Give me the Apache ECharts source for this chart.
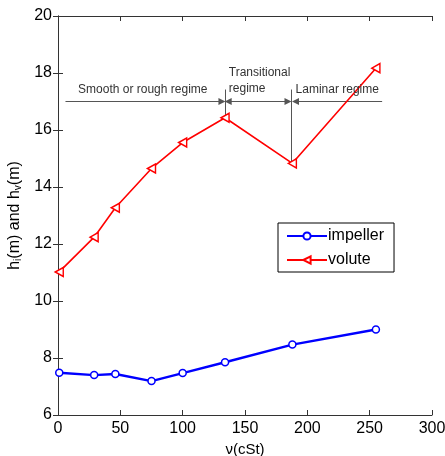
<!DOCTYPE html>
<html>
<head>
<meta charset="utf-8">
<script src="https://cdn.jsdelivr.net/npm/echarts@6/dist/echarts.min.js"></script>
<style>
  html, body { margin: 0; padding: 0; background: #fff; }
  #chart { width: 445px; height: 456px; }
</style>
</head>
<body>
<div id="chart"></div>
<script>
// viscosity (cSt)
var nu = [1, 29, 46, 75, 100, 134, 188, 255];
var impeller = [7.48, 7.40, 7.44, 7.19, 7.47, 7.85, 8.47, 9.0];
var volute = [11.02, 12.24, 13.27, 14.65, 15.56, 16.43, 14.83, 18.17];
var xTicks = [0, 50, 100, 150, 200, 250, 300];
var yTicks = [6, 8, 10, 12, 14, 16, 18, 20];

// regime boundaries and arrow levels
var arrowY = 17.0;
var regimeEdges = [6, 134, 188, 260];

var mychart = echarts.init(document.getElementById('chart'));

var font = 'Liberation Sans, Arial, sans-serif';
var axisColor = '#333';

function pairs(xs, ys) {
  return xs.map(function (x, i) { return [x, ys[i]]; });
}

var annotLines = [
  // smooth/rough arrow -> right
  [{ coord: [regimeEdges[0], arrowY], symbol: 'none' }, { coord: [regimeEdges[1] - 2.5, arrowY], symbol: 'triangle' }],
  // transitional <->
  [{ coord: [regimeEdges[1] + 2.5, arrowY], symbol: 'triangle' }, { coord: [regimeEdges[2] - 3.5, arrowY], symbol: 'triangle' }],
  // laminar <-
  [{ coord: [regimeEdges[2] + 2.5, arrowY], symbol: 'triangle' }, { coord: [regimeEdges[3], arrowY], symbol: 'none' }],
  // vertical boundaries
  [{ coord: [regimeEdges[1], 17.42], symbol: 'none' }, { coord: [regimeEdges[1], volute[5]], symbol: 'none' }],
  [{ coord: [regimeEdges[2] - 1, 17.42], symbol: 'none' }, { coord: [regimeEdges[2] - 1, volute[6]], symbol: 'none' }]
];

var labelStyle = { fontFamily: font, fontSize: 12, color: '#333', lineHeight: 16 };

mychart.setOption({
  animation: false,
  grid: { left: 58, right: 13, top: 16, bottom: 41, outerBoundsMode: 'none' },
  legend: {
    data: ['impeller', 'volute'],
    orient: 'vertical',
    left: 278, top: 223,
    width: 116,
    padding: [5, 10, 4, 8],
    itemGap: 8,
    itemWidth: 40, itemHeight: 9,
    borderColor: '#000', borderWidth: 1, borderRadius: 0,
    backgroundColor: '#fff',
    textStyle: { fontFamily: font, fontSize: 16, color: '#000', padding: [0, 0, 0, -4] }
  },
  xAxis: [{
    type: 'value', min: 0, max: 300, interval: 50,
    name: 'ν(cSt)', nameLocation: 'middle', nameGap: 20,
    nameTextStyle: { fontFamily: font, fontSize: 15, color: '#000' },
    axisLine: { lineStyle: { color: axisColor } },
    axisTick: { inside: true, length: 5, lineStyle: { color: axisColor } },
    axisLabel: { fontFamily: font, fontSize: 16, color: '#000', margin: 6 },
    splitLine: { show: false }
  }, {
    type: 'value', min: 0, max: 300, interval: 50, position: 'top',
    axisLine: { show: true, lineStyle: { color: axisColor } },
    axisTick: { inside: true, length: 5, lineStyle: { color: axisColor } },
    axisLabel: { show: false }, splitLine: { show: false }
  }],
  yAxis: [{
    type: 'value', min: 6, max: 20, interval: 2,
    name: '{a|h}{s|i}{a|(m) and h}{s|v}{a|(m)}',
    nameLocation: 'middle', nameGap: 27,
    nameTextStyle: {
      rich: {
        a: { fontFamily: font, fontSize: 16, color: '#000' },
        s: { fontFamily: font, fontSize: 10, color: '#000', padding: [8, 0, 0, 0] }
      }
    },
    axisLine: { show: true, lineStyle: { color: axisColor } },
    axisTick: { show: true, inside: true, length: 5, lineStyle: { color: axisColor } },
    axisLabel: { fontFamily: font, fontSize: 16, color: '#000', margin: 6 },
    splitLine: { show: false }
  }, {
    type: 'value', min: 6, max: 20, interval: 2, position: 'right',
    axisLine: { show: true, lineStyle: { color: axisColor } },
    axisTick: { show: true, inside: true, length: 5, lineStyle: { color: axisColor } },
    axisLabel: { show: false }, splitLine: { show: false }
  }],
  series: [{
    name: 'impeller',
    type: 'line',
    data: pairs(nu, impeller),
    symbol: 'circle', symbolSize: 7,
    showAllSymbol: true,
    itemStyle: { color: '#fff', borderColor: '#0000ff', borderWidth: 1.5 },
    lineStyle: { color: '#0000ff', width: 2.4 },
    z: 3
  }, {
    name: 'volute',
    type: 'line',
    data: pairs(nu, volute),
    symbol: 'triangle', symbolSize: [9, 8], symbolRotate: 90,
    showAllSymbol: true,
    itemStyle: { color: '#fff', borderColor: '#ff0000', borderWidth: 1.5 },
    lineStyle: { color: '#ff0000', width: 1.6 },
    z: 3,
    markLine: {
      silent: true,
      symbolSize: [7, 7],
      lineStyle: { color: '#555', width: 1, type: 'solid' },
      label: { show: false },
      data: annotLines,
      z: 2
    },
    markPoint: {
      silent: true,
      symbol: 'circle', symbolSize: 0,
      data: [
        { coord: [68, 17.42], label: Object.assign({ show: true, formatter: 'Smooth or rough regime', position: 'inside' }, labelStyle) },
        { coord: [137, 17.72], label: Object.assign({ show: true, formatter: 'Transitional\nregime', position: 'right', distance: 0 }, labelStyle) },
        { coord: [224, 17.42], label: Object.assign({ show: true, formatter: 'Laminar regime', position: 'inside' }, labelStyle) }
      ]
    }
  }]
});
window.onresize = mychart.resize;
</script>
</body>
</html>
